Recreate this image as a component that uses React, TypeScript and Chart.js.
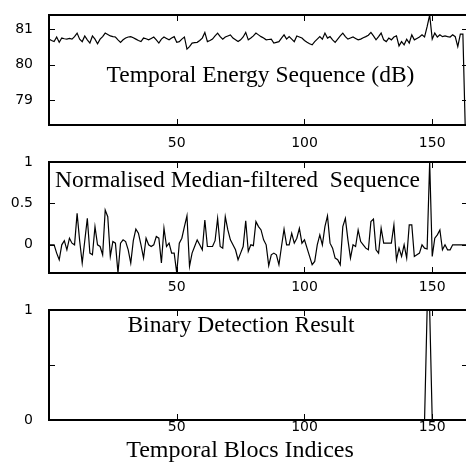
import React, { useEffect, useRef } from "react";
import { Chart, registerables } from "chart.js";

Chart.register(...registerables);

// ---------- data ----------
const energyDb = [
  80.72, 80.68, 80.65, 80.78, 80.63, 80.75, 80.73, 80.72, 80.74, 80.72,
  80.79, 80.89, 80.72, 80.65, 80.81, 80.70, 80.61, 80.81, 80.72, 80.59,
  80.72, 80.79, 80.89, 80.85, 80.81, 80.79, 80.78, 80.70, 80.63, 80.70,
  80.75, 80.78, 80.79, 80.76, 80.72, 80.68, 80.65, 80.75, 80.73, 80.70,
  80.74, 80.78, 80.70, 80.61, 80.72, 80.78, 80.74, 80.70, 80.75, 80.79,
  80.63, 80.65, 80.72, 80.78, 80.44, 80.51, 80.61, 80.62, 80.63, 80.68,
  80.75, 80.91, 80.65, 80.68, 80.72, 80.81, 80.89, 80.79, 80.72, 80.78,
  80.81, 80.84, 80.75, 80.70, 80.65, 80.70, 80.78, 80.91, 80.70, 80.75,
  80.81, 80.89, 80.84, 80.79, 80.75, 80.70, 80.71, 80.72, 80.61, 80.63,
  80.65, 80.75, 80.84, 80.72, 80.79, 80.72, 80.65, 80.81, 80.78, 80.75,
  80.68, 80.63, 80.59, 80.56, 80.65, 80.72, 80.79, 80.72, 80.89, 80.75,
  80.79, 80.70, 80.63, 80.72, 80.81, 80.89, 80.79, 80.72, 80.75, 80.78,
  80.74, 80.70, 80.72, 80.76, 80.79, 80.83, 80.91, 80.81, 80.70, 80.79,
  80.89, 80.70, 80.65, 80.75, 80.70, 80.78, 80.81, 80.53, 80.65, 80.56,
  80.72, 80.61, 80.84, 80.70, 80.74, 80.78, 80.84, 80.78, 81.07, 81.40,
  80.72, 80.89, 80.78, 80.84, 80.79, 80.81, 80.79, 80.78, 80.84, 80.79,
  80.51, 80.86, 80.86, 78.0,
];

const medianFiltered = [
  0, 0, 0, -0.1, -0.18, 0, 0.05, -0.06, 0.08, 0.02,
  0, 0.38, 0.05, -0.22, 0.05, 0.32, -0.1, -0.12, 0.22, 0,
  -0.02, -0.12, 0.42, 0.34, -0.14, 0.04, 0.02, -0.34, 0.02, 0.06,
  0.04, -0.06, -0.22, 0.05, 0.19, 0.14, 0, -0.16, 0.08, 0,
  -0.02, 0, 0.1, 0.08, -0.22, 0.2, -0.02, 0.02, -0.1, -0.1,
  -0.34, 0.02, 0.08, 0.22, 0.35, -0.26, -0.1, -0.02, 0.06, 0,
  -0.06, 0.3, -0.02, -0.02, -0.02, 0.05, 0.32, -0.02, -0.04, 0.34,
  0.18, 0.06, 0, -0.06, -0.18, -0.1, -0.02, 0.29, -0.08, 0,
  -0.01, 0.28, 0.22, 0.18, 0.06, 0, -0.25, -0.12, -0.1, -0.12,
  -0.24, -0.02, 0.19, 0, 0, 0.14, 0.02, 0.08, 0.2, 0.02,
  0.06, -0.04, -0.14, -0.24, -0.2, 0, 0.12, 0, 0.22, 0.35,
  0.02, -0.04, -0.16, -0.18, -0.24, 0.22, 0.32, 0.06, -0.16, 0,
  -0.02, 0.18, 0.04, 0, -0.04, -0.06, 0.28, 0.31, -0.06, -0.1,
  0.2, 0.02, 0.02, 0.02, 0.02, 0.24, -0.18, -0.04, -0.14, 0,
  -0.16, 0.24, 0.24, -0.14, -0.12, -0.1, 0, -0.04, -0.05, 1,
  -0.14, 0.08, 0.12, 0.18, -0.06, 0, -0.06, -0.06, 0, 0,
  0, 0, 0, 0, 0,
];

const binaryIdx = [0, 147, 148, 149, 150, 164];
const binaryVal = [0, 0, 1, 1, 0, 0];

const xTickValues = [50, 100, 150];
const energyTickValues = [79, 80, 81];
const medianTickValues = [0, 0.5, 1];
const binaryTickValues = [0, 0.5, 1];
const binaryTickLabels = ["0", "", "1"];

const panelTitles = [
  "Temporal Energy Sequence (dB)",
  "Normalised Median-filtered  Sequence",
  "Binary Detection Result",
];
const xAxisTitle = "Temporal Blocs Indices";

// ---------- layout ----------
const CW = 470;
const CH = 463;
const X_MIN = 0;
const X_MAX = 164;

const tickFont = { family: "'DejaVu Sans', sans-serif", size: 14 };
const serifFamily = "'Liberation Serif', 'Times New Roman', serif";

type PanelCfg = {
  points: { x: number; y: number }[];
  yMin: number;
  yMax: number;
  yTicks: number[];
  yLabel?: (i: number, v: number) => string;
  padTop: number;
  padBottom: number;
  xAxisHeight: number;
  xTickPad: number;
  title: string;
  titleDx: number;
  titleDy: number;
  xTitle?: string;
};

const panels: PanelCfg[] = [
  {
    points: energyDb.map((y, i) => ({ x: i, y })),
    yMin: 78.3,
    yMax: 81.4,
    yTicks: energyTickValues,
    padTop: 15,
    padBottom: CH - 125 - 30,
    xAxisHeight: 30,
    xTickPad: 10,
    title: panelTitles[0],
    titleDx: 211.5,
    titleDy: 67,
  },
  {
    points: medianFiltered.map((y, i) => ({ x: i, y })),
    yMin: -0.34,
    yMax: 1,
    yTicks: medianTickValues,
    padTop: 162,
    padBottom: CH - 273 - 30,
    xAxisHeight: 30,
    xTickPad: 6,
    title: panelTitles[1],
    titleDx: 188.5,
    titleDy: 25,
  },
  {
    points: binaryIdx.map((x, i) => ({ x, y: binaryVal[i] })),
    yMin: 0,
    yMax: 1,
    yTicks: binaryTickValues,
    yLabel: (i) => binaryTickLabels[i],
    padTop: 310,
    padBottom: 0,
    xAxisHeight: CH - 420,
    xTickPad: -1,
    title: panelTitles[2],
    titleDx: 192,
    titleDy: 22,
    xTitle: xAxisTitle,
  },
];

const frameTicksPlugin = {
  id: "frameTicks",
  afterDatasetsDraw(chart: any, _args: any, opts: any) {
    const { ctx, chartArea: a, scales } = chart;
    const xs = scales.x;
    const ys = scales.y;
    const L = 6;
    ctx.save();
    ctx.strokeStyle = "#000";
    ctx.lineWidth = 1;
    ctx.beginPath();
    xs.ticks.forEach((t: any) => {
      const p = Math.round(xs.getPixelForValue(t.value)) + 0.5;
      ctx.moveTo(p, a.bottom);
      ctx.lineTo(p, a.bottom - L);
      ctx.moveTo(p, a.top);
      ctx.lineTo(p, a.top + L);
    });
    ys.ticks.forEach((t: any) => {
      const p = Math.round(ys.getPixelForValue(t.value)) + 0.5;
      ctx.moveTo(a.left, p);
      ctx.lineTo(a.left + L, p);
      ctx.moveTo(a.right, p);
      ctx.lineTo(a.right - L, p);
    });
    ctx.stroke();
    ctx.lineWidth = 2;
    ctx.strokeRect(a.left, a.top, a.right - a.left, a.bottom - a.top);
    ctx.fillStyle = "#000";
    ctx.textAlign = "center";
    ctx.textBaseline = "alphabetic";
    ctx.font = `23.5px ${serifFamily}`;
    ctx.fillText(opts.text, a.left + opts.dx, a.top + opts.dy);
    if (opts.xTitle) {
      // x-axis title, placed below the tick labels
      ctx.font = `24px ${serifFamily}`;
      ctx.fillText(opts.xTitle, a.left + 191, a.bottom + 37);
    }
    ctx.restore();
  },
};

function Panel({ cfg }: { cfg: PanelCfg }) {
  const ref = useRef<HTMLCanvasElement | null>(null);
  useEffect(() => {
    if (!ref.current) return;
    const chart = new Chart(ref.current, {
      type: "line",
      data: {
        datasets: [
          {
            data: cfg.points,
            borderColor: "#000",
            borderWidth: 1.2,
            pointRadius: 0,
            tension: 0,
            fill: false,
          },
        ],
      },
      options: {
        animation: false,
        responsive: false,
        devicePixelRatio: 1,
        events: [],
        layout: { padding: { top: cfg.padTop, bottom: cfg.padBottom, left: 0, right: CW - 468 } },
        plugins: {
          legend: { display: false },
          tooltip: { enabled: false },
          title: { display: false },
          frameTicks: { text: cfg.title, dx: cfg.titleDx, dy: cfg.titleDy, xTitle: cfg.xTitle },
        } as any,
        scales: {
          x: {
            type: "linear",
            min: X_MIN,
            max: X_MAX,
            grid: { display: false, drawTicks: false },
            border: { display: false },
            afterBuildTicks: (s: any) => {
              s.ticks = xTickValues.map((v) => ({ value: v }));
            },
            afterFit: (s: any) => {
              s.height = cfg.xAxisHeight;
              s.paddingLeft = 0;
              s.paddingRight = 0;
            },
            ticks: {
              autoSkip: false,
              maxRotation: 0,
              padding: cfg.xTickPad,
              color: "#000",
              font: tickFont,
            },
            title: { display: false },
          },
          y: {
            type: "linear",
            min: cfg.yMin,
            max: cfg.yMax,
            grid: { display: false, drawTicks: false },
            border: { display: false },
            afterBuildTicks: (s: any) => {
              s.ticks = cfg.yTicks.map((v) => ({ value: v }));
            },
            afterFit: (s: any) => {
              s.width = 49;
              s.paddingTop = 0;
              s.paddingBottom = 0;
            },
            ticks: {
              autoSkip: false,
              padding: 16,
              color: "#000",
              font: tickFont,
              callback: (v: any, i: number) => (cfg.yLabel ? cfg.yLabel(i, v) : String(v)),
            },
          },
        },
      },
      plugins: [frameTicksPlugin],
    });
    return () => chart.destroy();
  }, [cfg]);
  return (
    <canvas
      ref={ref}
      width={CW}
      height={CH}
      style={{ position: "absolute", left: 0, top: 0, display: "block" }}
    />
  );
}

export default function App() {
  return (
    <div
      style={{
        position: "absolute",
        left: 0,
        top: 0,
        width: 466,
        height: 463,
        overflow: "hidden",
        background: "#fff",
      }}
    >
      {panels.map((p, i) => (
        <Panel key={i} cfg={p} />
      ))}
    </div>
  );
}
